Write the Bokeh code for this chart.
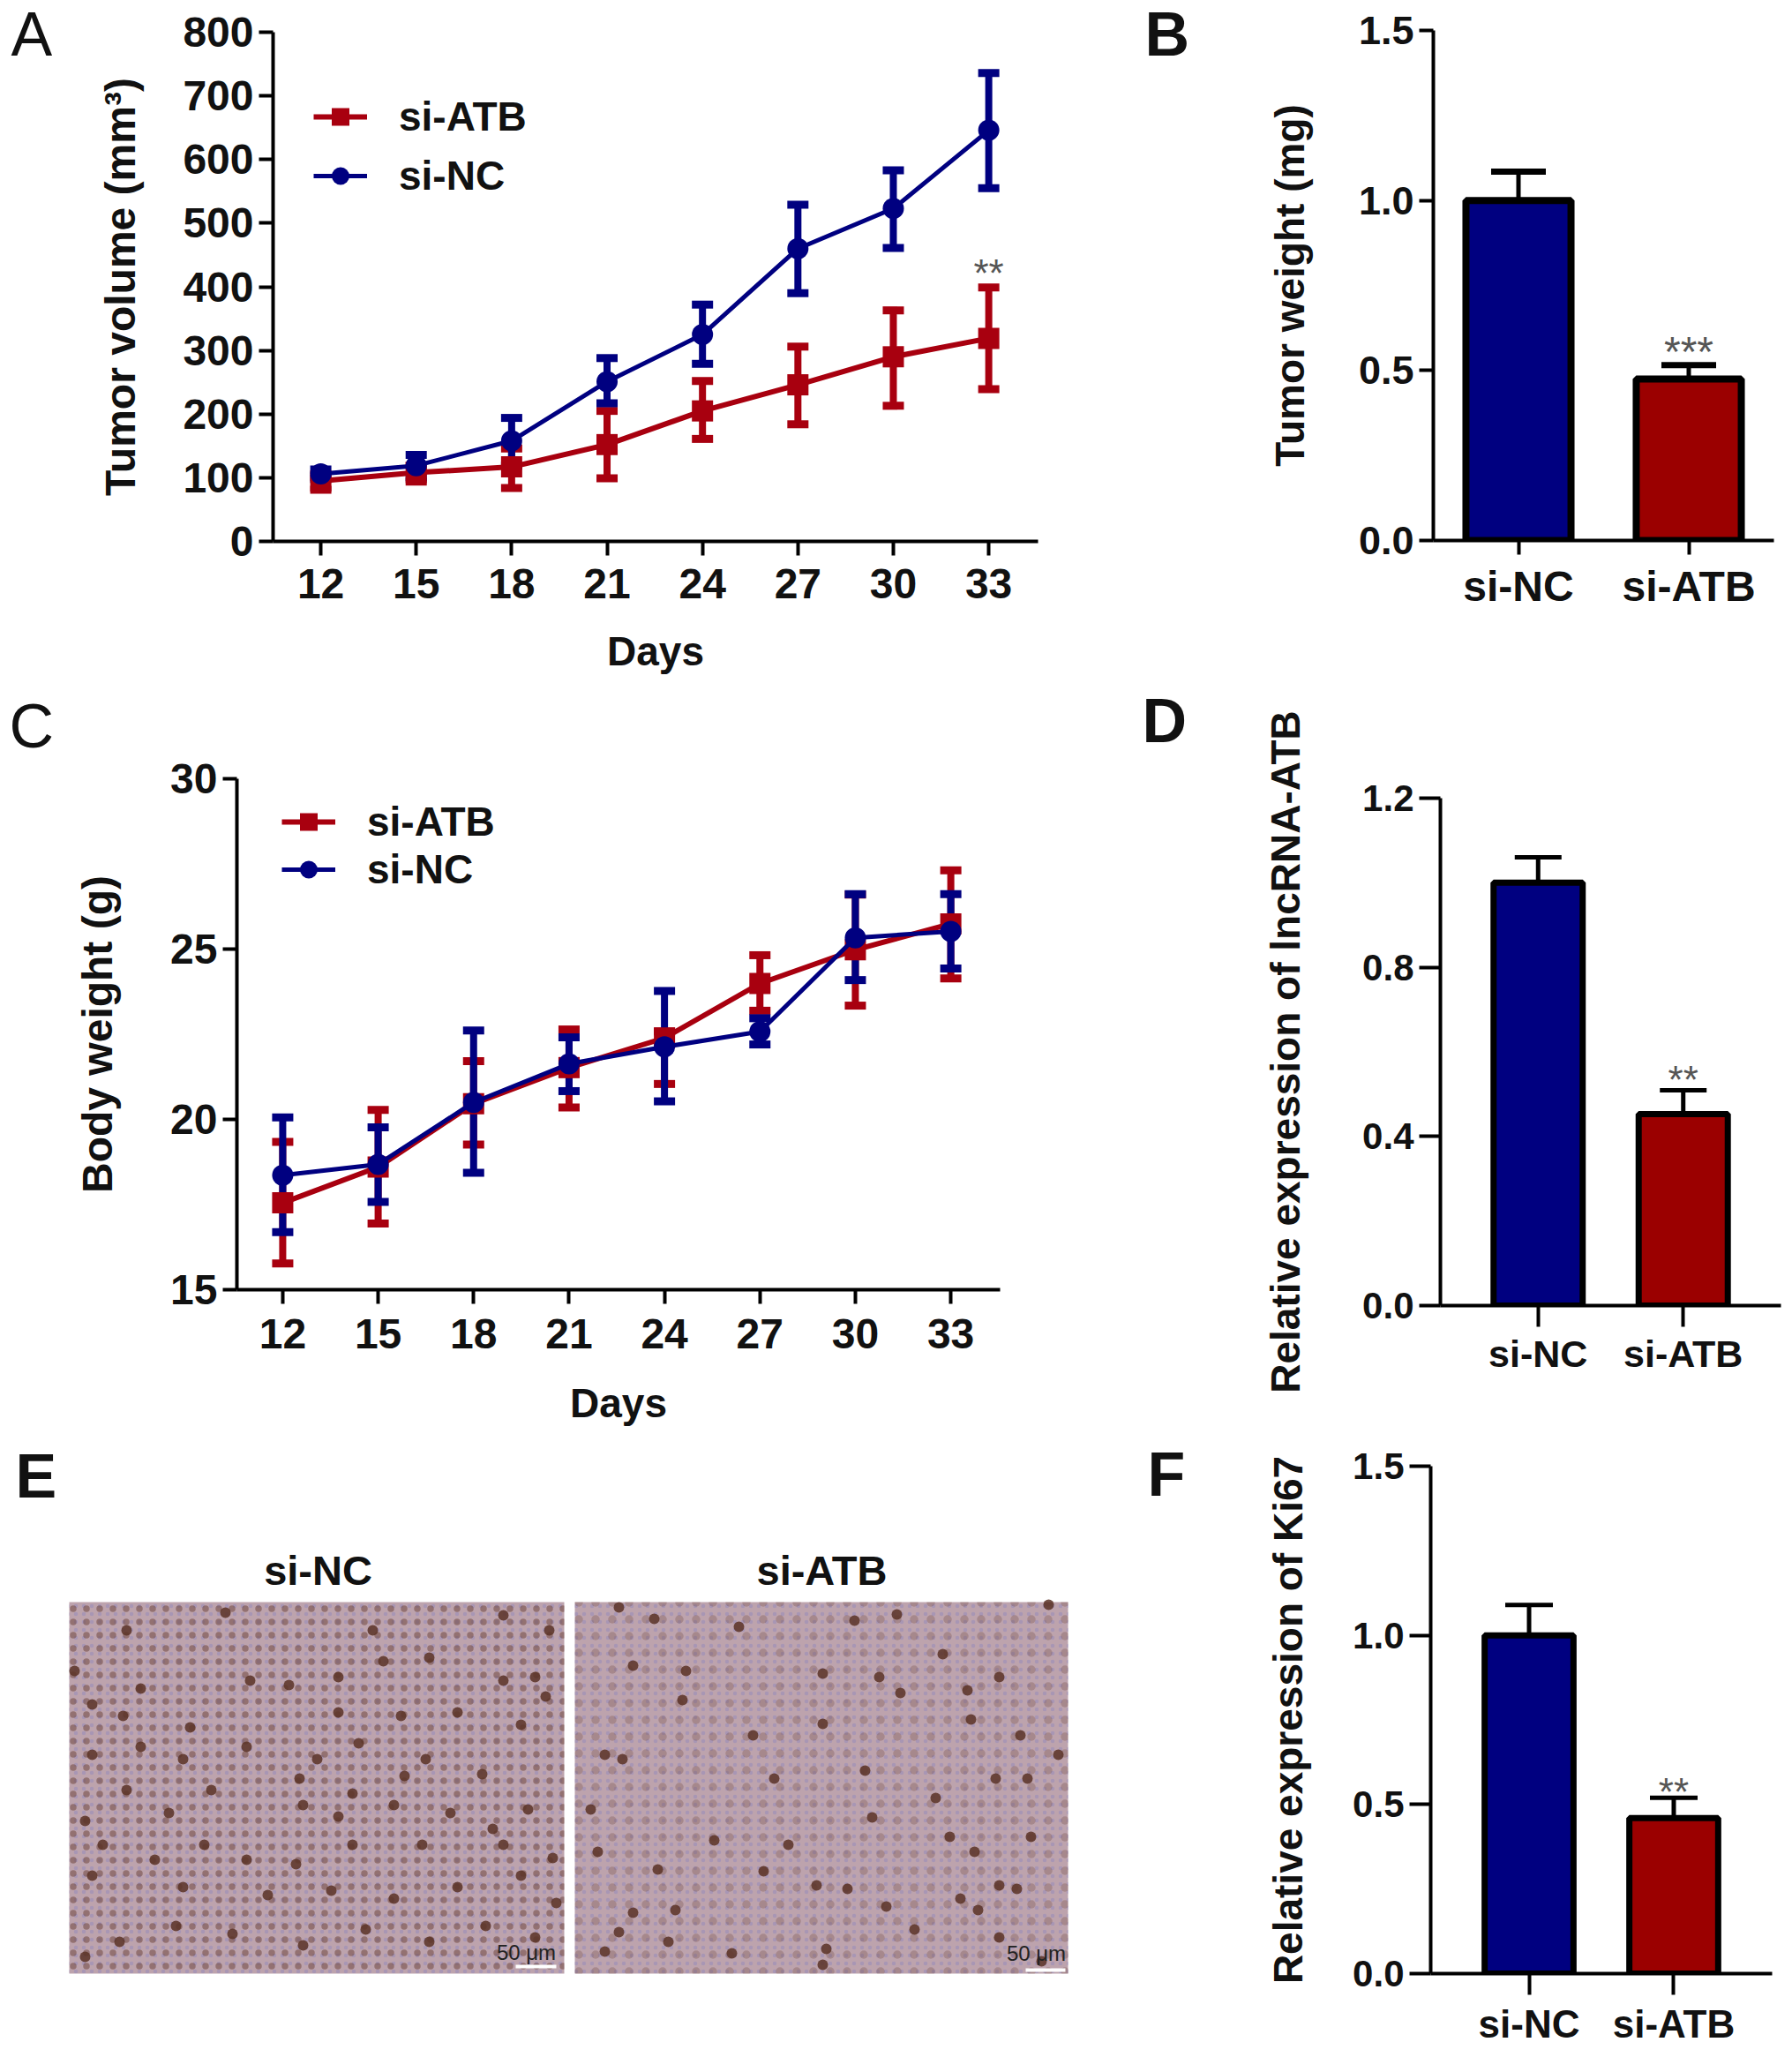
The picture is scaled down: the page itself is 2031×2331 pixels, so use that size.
from bokeh.plotting import figure
from bokeh.layouts import column, row
from bokeh.models import (ColumnDataSource, Whisker, TeeHead, Legend, LegendItem, Label, FixedTicker,
                          NumeralTickFormatter, FactorRange, Range1d)
from bokeh.core.properties import value
from bokeh.embed import file_html
from bokeh.resources import INLINE

FONT = "Liberation Sans"
BLUE_LINE, RED_LINE = "#000080", "#A8000F"
BLUE_BAR, RED_BAR = "#000080", "#9B0000"

days = [12, 15, 18, 21, 24, 27, 30, 33]

vol_nc = [106, 119, 158, 251, 325, 460, 523, 646]
vol_nc_up = [113, 136, 194, 288, 372, 529, 583, 736]
vol_nc_lo = [98, 101, 119, 217, 279, 390, 461, 555]
vol_atb = [95, 108, 117, 152, 205, 246, 290, 319]
vol_atb_up = [101, 119, 146, 205, 252, 306, 363, 399]
vol_atb_lo = [81, 94, 84, 99, 161, 184, 213, 239]

bw_nc = [18.36, 18.68, 20.5, 21.63, 22.13, 22.58, 25.33, 25.52]
bw_nc_up = [20.06, 19.77, 22.61, 22.41, 23.77, 22.97, 26.61, 26.61]
bw_nc_lo = [16.69, 17.58, 18.43, 20.83, 20.53, 22.2, 24.09, 24.43]
bw_atb = [17.55, 18.6, 20.46, 21.52, 22.39, 23.99, 24.98, 25.74]
bw_atb_up = [19.34, 20.28, 21.71, 22.64, 22.58, 24.82, 26.6, 27.31]
bw_atb_lo = [15.77, 16.94, 19.26, 20.35, 21.04, 23.19, 23.34, 24.14]

groups = ["si-NC", "si-ATB"]
weight_mean = [1.0, 0.475]
weight_up = [1.085, 0.516]
lnc_mean = [1.0, 0.453]
lnc_up = [1.06, 0.509]
ki67_mean = [1.0, 0.46]
ki67_up = [1.09, 0.52]

# darkest nuclei in the two micrographs (image pixels)
nc_cells = [(116, 2090), (231, 2090), (570, 2090), (626, 2105), (546, 2010), (482, 1993), (590, 1954), (434, 1882),
            (422, 1847), (570, 1830), (255, 1827), (143, 1847), (84, 1893), (159, 1913), (207, 1993), (339, 2015),
            (458, 2012), (622, 1847), (606, 1900), (618, 1922), (570, 1904), (486, 1878), (383, 1900), (283, 1904),
            (327, 1909), (383, 1940), (518, 1940), (454, 1944), (215, 1957), (104, 1931), (139, 1944), (104, 1988),
            (159, 1979), (279, 1979), (359, 1993), (406, 1975), (399, 2032), (343, 2045), (239, 2028), (143, 2028),
            (191, 2054), (96, 2063), (383, 2058), (446, 2045), (510, 2054), (598, 2050), (558, 2072), (478, 2090),
            (399, 2090), (335, 2112), (279, 2107), (175, 2107), (104, 2125), (207, 2138), (303, 2147), (375, 2142),
            (446, 2151), (518, 2138), (590, 2125), (630, 2156), (135, 2200), (96, 2217), (199, 2182), (263, 2191),
            (343, 2204), (414, 2186), (486, 2200), (550, 2182), (606, 2195)]
atb_cells = [(741, 1834), (968, 1836), (1016, 1829), (1188, 1818), (701, 1821), (777, 1893), (773, 1926), (932, 1896),
             (996, 1900), (1096, 1915), (1132, 1900), (932, 1953), (853, 1966), (705, 1993), (685, 1988), (980, 2006),
             (1128, 2015), (1164, 2015), (1199, 1988), (1156, 1966), (1168, 2081), (1076, 2081), (1104, 2098),
             (809, 2085), (893, 2090), (677, 2098), (745, 2118), (865, 2120), (960, 2140), (925, 2136), (1132, 2136),
             (1152, 2140), (1088, 2151), (1108, 2164), (701, 2189), (717, 2167), (936, 2208), (685, 2211), (757, 2200),
             (1036, 2186), (1132, 2195), (932, 2226), (1020, 1918), (1068, 1874), (837, 1843), (717, 1887), (877, 2015),
             (988, 2059), (1060, 2037), (1100, 1948), (669, 2050), (765, 2164), (829, 2213), (1004, 2160), (1180, 2222)]
nuclei_x = [c[0] for c in nc_cells + atb_cells]
nuclei_y = [c[1] for c in nc_cells + atb_cells]


def style_axes(p, tick_px, xtitle_px, ytitle_px, xstand, xtitle_stand, ytitle_stand, lw=4, tick_len=16):
    for ax in (p.xaxis[0], p.yaxis[0]):
        ax.axis_line_width = lw
        ax.axis_line_color = "black"
        ax.major_tick_line_width = lw
        ax.major_tick_line_color = "black"
        ax.major_tick_out = tick_len
        ax.major_tick_in = 0
        ax.minor_tick_line_color = None
        ax.major_label_text_font = FONT
        ax.major_label_text_font_style = "bold"
        ax.major_label_text_font_size = f"{tick_px}px"
        ax.major_label_text_color = "#111111"
        ax.axis_label_text_font = FONT
        ax.axis_label_text_font_style = "bold"
        ax.axis_label_text_color = "#111111"
    p.xaxis[0].axis_label_text_font_size = f"{xtitle_px}px"
    p.yaxis[0].axis_label_text_font_size = f"{ytitle_px}px"
    p.xaxis[0].major_label_standoff = xstand
    p.yaxis[0].major_label_standoff = 6
    p.xaxis[0].axis_label_standoff = xtitle_stand
    p.yaxis[0].axis_label_standoff = ytitle_stand
    p.xgrid.visible = False
    p.ygrid.visible = False
    p.outline_line_color = None


def panel_letter(p, text, x, y, px=70, weight="normal", side="left"):
    """Panel letter in canvas pixels; placed in a side panel so the frame does not clip it."""
    lab = Label(x=x, y=y, x_units="canvas", y_units="canvas", text=text, text_font=FONT,
                text_font_size=f"{px}px", text_font_style=weight, text_color="#111111",
                text_baseline="alphabetic")
    if side:
        p.add_layout(lab, side)
    else:
        p.add_layout(lab)


def base(width, height, left, top, right, bottom, **kw):
    return figure(width=width, height=height, min_border_left=left, min_border_top=top,
                  min_border_right=right, min_border_bottom=bottom, output_backend="svg",
                  toolbar_location=None, background_fill_color=None, border_fill_color=None, **kw)


def series(p, x, y, up, lo, color, lw, marker):
    src = ColumnDataSource(dict(x=x, y=y, up=up, lo=lo))
    p.add_layout(Whisker(base="x", upper="up", lower="lo", source=src, line_color=color, line_width=8,
                         upper_head=TeeHead(size=24, line_color=color, line_width=9),
                         lower_head=TeeHead(size=24, line_color=color, line_width=9)))
    l = p.line("x", "y", source=src, line_color=color, line_width=lw)
    m = p.scatter("x", "y", source=src, marker=marker, size=24, fill_color=color, line_color=color, line_width=0)
    return l, m


def line_panel(width, height, left, top, right, bottom, x_range, y_range, yticks, ylabel, nc, atb,
               tick_px, xstand, xts, yts, legend_xy, glyph_h, spacing, letter, lx, ly):
    p = base(width, height, left, top, right, bottom, x_range=x_range, y_range=y_range,
             x_axis_label="Days", y_axis_label=ylabel)
    style_axes(p, tick_px, 46, 48, xstand, xts, yts)
    p.xaxis[0].ticker = FixedTicker(ticks=days)
    p.yaxis[0].ticker = FixedTicker(ticks=yticks)
    la, ma = series(p, days, *atb, RED_LINE, 6, "square")
    ln, mn = series(p, days, *nc, BLUE_LINE, 5, "circle")
    leg = Legend(items=[LegendItem(label="si-ATB", renderers=[la, ma]), LegendItem(label="si-NC", renderers=[ln, mn])],
                 location=legend_xy, border_line_color=None, background_fill_color=None, padding=0, margin=0,
                 glyph_width=61, glyph_height=glyph_h, spacing=spacing, label_standoff=36,
                 label_text_font=FONT, label_text_font_style="bold", label_text_font_size="46px",
                 label_text_color="#111111", label_height=glyph_h)
    p.add_layout(leg)
    panel_letter(p, letter, lx, ly)
    return p


def bar_panel(width, height, left, top, right, bottom, y_max, yticks, ylabel, means, ups, pad, bar_w, border,
              tick_px, cat_px, cap_px, cap_lw, xstand, yts, tick_len, stars, star_y, star_px, letter, lx, ly):
    p = base(width, height, left, top, right, bottom,
             x_range=FactorRange(factors=groups, range_padding=pad, range_padding_units="absolute"),
             y_range=Range1d(0, y_max), y_axis_label=ylabel)
    style_axes(p, tick_px, 46, 46, xstand, 0, yts, tick_len=tick_len)
    p.xaxis[0].axis_label = None
    p.xaxis[0].major_label_text_font_size = f"{cat_px}px"
    p.yaxis[0].ticker = FixedTicker(ticks=yticks)
    p.yaxis[0].formatter = NumeralTickFormatter(format="0.0")
    src = ColumnDataSource(dict(x=groups, y=means, up=ups, c=[BLUE_BAR, RED_BAR]))
    p.add_layout(Whisker(base="x", upper="up", lower="y", source=src, line_color="black", line_width=5,
                         upper_head=TeeHead(size=cap_px, line_color="black", line_width=cap_lw), lower_head=None))
    p.vbar(x="x", top="y", bottom=0, width=bar_w, source=src, fill_color="c", line_color="black", line_width=border)
    p.text(x=[groups[1]], y=[star_y], text=[stars], text_font=value(FONT), text_font_size=f"{star_px}px",
           text_color="#555555", text_align="center", text_baseline="middle")
    panel_letter(p, letter, lx, ly, weight="bold")
    return p


# ---- A ----
a = line_panel(1250, 785, 309, 36, 74, 172, Range1d(10.5, 34.55), Range1d(0, 800),
               [0, 100, 200, 300, 400, 500, 600, 700, 800], "Tumor volume (mm³)",
               (vol_nc, vol_nc_up, vol_nc_lo), (vol_atb, vol_atb_up, vol_atb_lo),
               48, 15, 31, 41, (46, 387), 50, 13, "A", 12, 38)
a.text(x=[33], y=[422], text=["**"], text_font=value(FONT), text_font_size="44px", text_color="#555555",
       text_align="center", text_baseline="middle")

# ---- C ----
c = line_panel(1250, 850, 268, 97, 117, 174, Range1d(10.56, 34.55), Range1d(15, 30),
               [15, 20, 25, 30], "Body weight (g)",
               (bw_nc, bw_nc_up, bw_nc_lo), (bw_atb, bw_atb_up, bw_atb_lo),
               48, 17, 33, 53, (51, 449), 50, -2, "C", 10, 37)

# ---- B, D, F ----
b = bar_panel(775, 775, 374, 34, 15, 163, 1.5, [0, 0.5, 1.0, 1.5], "Tumor weight (mg)",
              weight_mean, weight_up, 0, 0.617, 8, 45, 48, 62, 7, 9, 49, 16,
              "***", 0.555, 48, "B", 47, 38)
d = bar_panel(775, 850, 382, 129, 7, 146, 1.2, [0, 0.4, 0.8, 1.2], "Relative expression of lncRNA-ATB",
              lnc_mean, lnc_up, 0.1735, 0.614, 7, 42, 43, 53, 5, 6, 58, 24,
              "**", 0.535, 44, "D", 44, 41)
f = bar_panel(775, 695, 371, 36, 17, 83, 1.5, [0, 0.5, 1.0, 1.5], "Relative expression of Ki67",
              ki67_mean, ki67_up, 0.18, 0.614, 7, 42, 44, 54, 5, 8, 44, 24,
              "**", 0.538, 44, "F", 50, 45)

# ---- E : micrographs (flat tissue colour, fine stipple, hand-read dark nuclei) ----
e = figure(width=1250, height=685, x_range=Range1d(0, 1250), y_range=Range1d(2320, 1635), output_backend="svg",
           toolbar_location=None, min_border=0, background_fill_color=None, border_fill_color=None)
e.axis.visible = False
e.grid.visible = False
e.outline_line_color = None
panels_left = [78, 651]
panels_right = [639, 1210]
e.quad(left=panels_left, right=panels_right, top=1815, bottom=2236, fill_color="#BDA3AD", line_color=None)
e.quad(left=panels_left, right=panels_right, top=1815, bottom=2236, fill_alpha=0, line_color=None,
       hatch_pattern="dot", hatch_color="#8F88BC", hatch_alpha=0.45, hatch_scale=9, hatch_weight=3)
e.quad(left=panels_left, right=panels_right, top=1815, bottom=2236, fill_alpha=0, line_color=None,
       hatch_pattern="dot", hatch_color="#6A3F35", hatch_alpha=[0.5, 0.28], hatch_scale=[15, 19], hatch_weight=[3, 3])
e.scatter(x=nuclei_x, y=nuclei_y, marker="circle", size=12, fill_color="#5A3226", fill_alpha=0.85, line_color=None)
for x_c, txt in ((360, "si-NC"), (931, "si-ATB")):
    e.text(x=[x_c], y=[1779], text=[txt], text_font=value(FONT), text_font_size="47px", text_font_style="bold",
           text_color="#111111", text_align="center", text_baseline="middle")
e.text(x=[596, 1174], y=[2212, 2213], text=["50 μm", "50 μm"], text_font=value(FONT), text_font_size="24px",
       text_color="#222222", text_align="center", text_baseline="middle")
e.segment(x0=[584, 1162], x1=[630, 1207], y0=[2228, 2232], y1=[2228, 2232], line_color="white", line_width=4)
panel_letter(e, "E", 17, 37, weight="bold", side=None)

left_col = column(column(a), column(c), column(e))
right_col = column(column(b), column(d), column(f))
page = row(left_col, right_col)
open("out.html", "w").write(file_html(page, INLINE))
